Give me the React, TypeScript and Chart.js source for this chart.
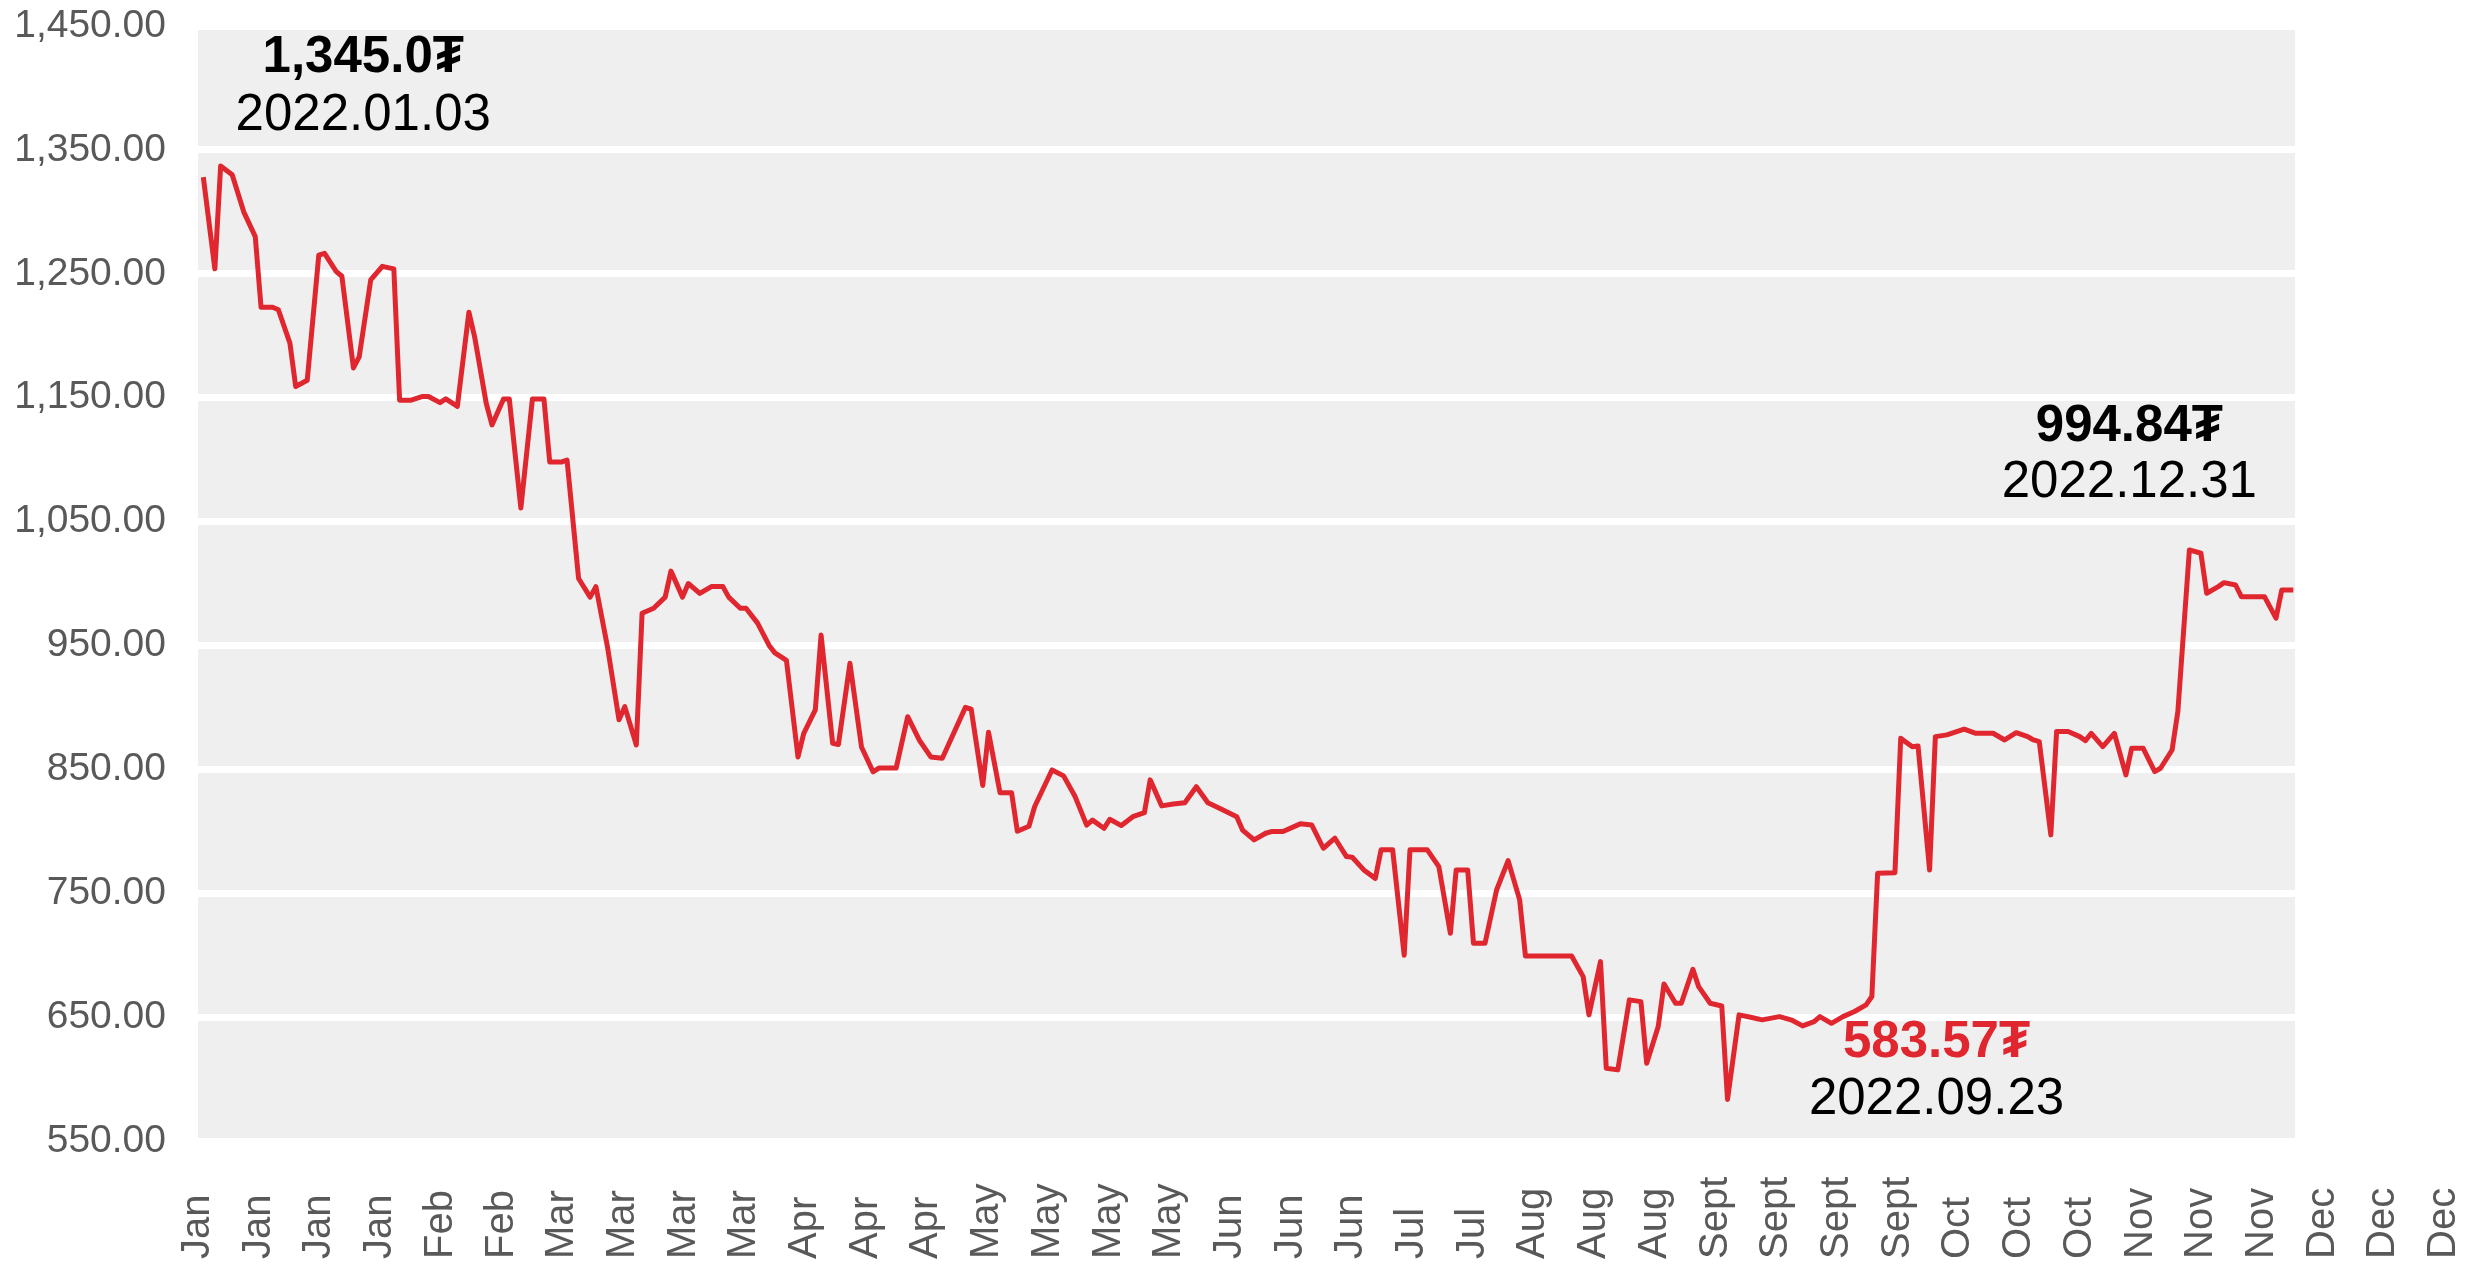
import React, { useEffect, useRef } from 'react';
import { Chart, registerables } from 'chart.js';

Chart.register(...registerables);

// Day of year (2022) for each observation
const DAYS = [
  3, 5, 6, 8, 10, 12, 13, 15, 16, 18, 19, 21, 23, 24, 26, 27, 29, 30, 32, 34,
  36, 37, 39, 41, 42, 44, 45, 47, 49, 50, 52, 53, 55, 56, 58, 60, 62, 63, 65, 66,
  68, 70, 71, 73, 75, 76, 78, 79, 81, 83, 84, 86, 87, 89, 91, 93, 94, 96, 97, 99,
  101, 102, 104, 106, 107, 109, 110, 112, 113, 115, 117, 119, 120, 123, 125, 127, 129, 131, 135, 136,
  138, 139, 141, 143, 144, 146, 147, 150, 152, 154, 156, 157, 159, 160, 162, 164, 166, 167, 169, 171,
  173, 175, 177, 179, 182, 183, 185, 187, 188, 190, 193, 195, 197, 199, 201, 202, 204, 206, 207, 209,
  211, 212, 215, 217, 219, 220, 222, 223, 225, 227, 229, 231, 232, 240, 242, 243, 245, 246, 248, 250,
  252, 253, 255, 256, 258, 259, 261, 262, 264, 266, 267, 269, 271, 273, 276, 278, 280, 282, 283, 285,
  287, 289, 291, 292, 293, 296, 297, 299, 300, 302, 303, 305, 308, 310, 313, 315, 317, 319, 320, 321,
  323, 324, 326, 328, 329, 330, 332, 334, 336, 337, 339, 341, 342, 344, 345, 347, 349, 350, 352, 353,
  355, 356, 358, 360, 362, 363, 365,
];

const PRICES = [
  1328, 1254, 1337, 1330, 1300, 1280, 1223, 1223, 1221, 1194, 1159, 1164, 1265, 1266.5, 1252, 1248, 1174, 1183, 1245, 1256,
  1254, 1148, 1148, 1151, 1151, 1146, 1149, 1143, 1219, 1199, 1145.5, 1128, 1149, 1149, 1061, 1149, 1149, 1098, 1098, 1099.7,
  1004, 989, 997.5, 949, 890, 900.6, 869.7, 976, 980, 989, 1010, 989, 1000, 992, 997.5, 997.5, 989, 980, 980, 968,
  950, 944, 938, 860, 879, 898, 958.5, 871, 870, 935.6, 868, 848, 851, 851, 892.5, 873.7, 860, 859, 900, 898.5,
  837, 880, 831, 831, 800, 804, 820, 849.5, 844.7, 828, 805, 809, 802.4, 809.7, 804.6, 811.8, 815, 841.5, 820.5, 822,
  823, 836, 823, 818.6, 811.8, 801, 793, 798.4, 799.8, 799.8, 806, 805, 786.3, 794.4, 779.6, 779, 768.8, 762, 785, 785,
  700, 785, 785, 771.5, 717.7, 768.8, 768.8, 709.6, 709.6, 752.6, 776.3, 744.6, 699.4, 699.4, 682.7, 651.8, 694.8, 608.7, 607.4, 663.9,
  662.5, 612.8, 642.4, 676.8, 661.2, 661.2, 688.6, 674.6, 661.2, 659, 583.57, 651.8, 649.9, 647.8, 650.4, 647.8, 642.9, 646.4, 650.4, 645,
  650.4, 654.5, 659.9, 666.6, 766.1, 766.6, 875, 868.3, 868.9, 768.8, 876.4, 877.8, 882.4, 879.1, 879.1, 873.7, 879.6, 876.4, 873.7, 872.3,
  797.1, 880.6, 880.6, 876.4, 873.2, 879.1, 868.3, 879.1, 845.5, 867, 867, 848.2, 850.9, 865.6, 896.6, 1027.1, 1024.4, 992.1, 997.5, 1000.7,
  998.8, 989.4, 989.4, 989.4, 972, 994.84, 994.84,
];

const X_LABELS = [
  'Jan', 'Jan', 'Jan', 'Jan', 'Feb', 'Feb', 'Mar', 'Mar', 'Mar', 'Mar',
  'Apr', 'Apr', 'Apr', 'May', 'May', 'May', 'May', 'Jun', 'Jun', 'Jun',
  'Jul', 'Jul', 'Aug', 'Aug', 'Aug', 'Sept', 'Sept', 'Sept', 'Sept', 'Oct',
  'Oct', 'Oct', 'Nov', 'Nov', 'Nov', 'Dec', 'Dec', 'Dec',
];

const Y_MIN = 550;
const Y_MAX = 1450;
const Y_STEP = 100;

const NOTE_VALUES = ['1,345.0₮', '583.57₮', '994.84₮'];
const NOTE_DATES = ['2022.01.03', '2022.09.23', '2022.12.31'];

// ---- layout / style config (not data) ----
const W = 2478;
const H = 1264;
const X_AXIS_MIN = 2.08;
const X_AXIS_MAX = 391.1;
const PLOT_END_DAY = 365.3;
const RED = '#E0262E';
const GRAY_BG = '#EFEFEF';
const AXIS_TEXT = '#595959';
const FONT = '"Liberation Sans", Arial, sans-serif';
const NOTE_ANCHORS = [
  { day: 30.7, valueY: 1424.6, dateY: 1377.4, color: '#000000' },
  { day: 303.2, valueY: 629.2, dateY: 583.2, color: RED },
  { day: 336.6, valueY: 1126.4, dateY: 1081.2, color: '#000000' },
];

const decorPlugin = {
  id: 'decor',
  beforeDraw(chart: any) {
    const { ctx, chartArea, scales } = chart;
    const x = scales.x;
    const y = scales.y;
    const right = x.getPixelForValue(PLOT_END_DAY);
    ctx.save();
    ctx.fillStyle = GRAY_BG;
    ctx.fillRect(chartArea.left, y.getPixelForValue(Y_MAX), right - chartArea.left, y.getPixelForValue(Y_MIN) - y.getPixelForValue(Y_MAX) + 3);
    ctx.restore();
  },
  afterDraw(chart: any) {
    const { ctx, scales } = chart;
    const x = scales.x;
    const y = scales.y;
    const step = (X_AXIS_MAX - X_AXIS_MIN) / (X_LABELS.length - 1);
    ctx.save();
    ctx.fillStyle = AXIS_TEXT;
    ctx.font = `40px ${FONT}`;
    ctx.textAlign = 'left';
    ctx.textBaseline = 'middle';
    X_LABELS.forEach((lab, k) => {
      const px = x.getPixelForValue(X_AXIS_MIN + k * step);
      ctx.save();
      ctx.translate(px, x.bottom - 5);
      ctx.rotate(-Math.PI / 2);
      ctx.fillText(lab, 0, 0);
      ctx.restore();
    });
    ctx.restore();
    ctx.save();
    ctx.textAlign = 'center';
    ctx.textBaseline = 'middle';
    NOTE_ANCHORS.forEach((a, i) => {
      const px = x.getPixelForValue(a.day);
      ctx.font = `bold 51px ${FONT}`;
      ctx.fillStyle = a.color;
      ctx.fillText(NOTE_VALUES[i], px, y.getPixelForValue(a.valueY));
      ctx.font = `51px ${FONT}`;
      ctx.fillStyle = '#000000';
      ctx.fillText(NOTE_DATES[i], px, y.getPixelForValue(a.dateY));
    });
    ctx.restore();
  },
};

export default function App() {
  const ref = useRef<HTMLCanvasElement | null>(null);
  useEffect(() => {
    if (!ref.current) return;
    const chart = new Chart(ref.current, {
      type: 'line',
      data: {
        datasets: [
          {
            data: DAYS.map((d, i) => ({ x: d, y: PRICES[i] })),
            borderColor: RED,
            borderWidth: 5,
            pointRadius: 0,
            tension: 0,
            borderJoinStyle: 'round',
            fill: false,
          },
        ],
      },
      options: {
        animation: false,
        responsive: false,
        maintainAspectRatio: false,
        devicePixelRatio: 1,
        layout: { padding: { left: 0, right: 34, top: 26, bottom: 0 } },
        plugins: { legend: { display: false }, tooltip: { enabled: false } },
        scales: {
          x: {
            type: 'linear',
            min: X_AXIS_MIN,
            max: X_AXIS_MAX,
            grid: { display: false },
            border: { display: false },
            ticks: { display: false },
            afterFit: (s: any) => {
              s.height = 123;
              s.paddingLeft = 0;
              s.paddingRight = 0;
            },
          },
          y: {
            min: Y_MIN,
            max: Y_MAX,
            afterFit: (s: any) => {
              s.width = 198;
              s.paddingTop = 0;
              s.paddingBottom = 0;
            },
            ticks: {
              stepSize: Y_STEP,
              padding: 32,
              color: AXIS_TEXT,
              font: { family: FONT, size: 39 },
              callback: (v: any) =>
                Number(v).toLocaleString('en-US', { minimumFractionDigits: 2, maximumFractionDigits: 2 }),
            },
            grid: { color: '#FFFFFF', lineWidth: 7, drawTicks: false },
            border: { display: false },
          },
        },
      },
      plugins: [decorPlugin],
    } as any);
    return () => chart.destroy();
  }, []);
  return (
    <div style={{ position: 'fixed', left: 0, top: 0, width: W, height: H, background: '#fff' }}>
      <canvas ref={ref} width={W} height={H} style={{ display: 'block', width: W, height: H }} />
    </div>
  );
}
